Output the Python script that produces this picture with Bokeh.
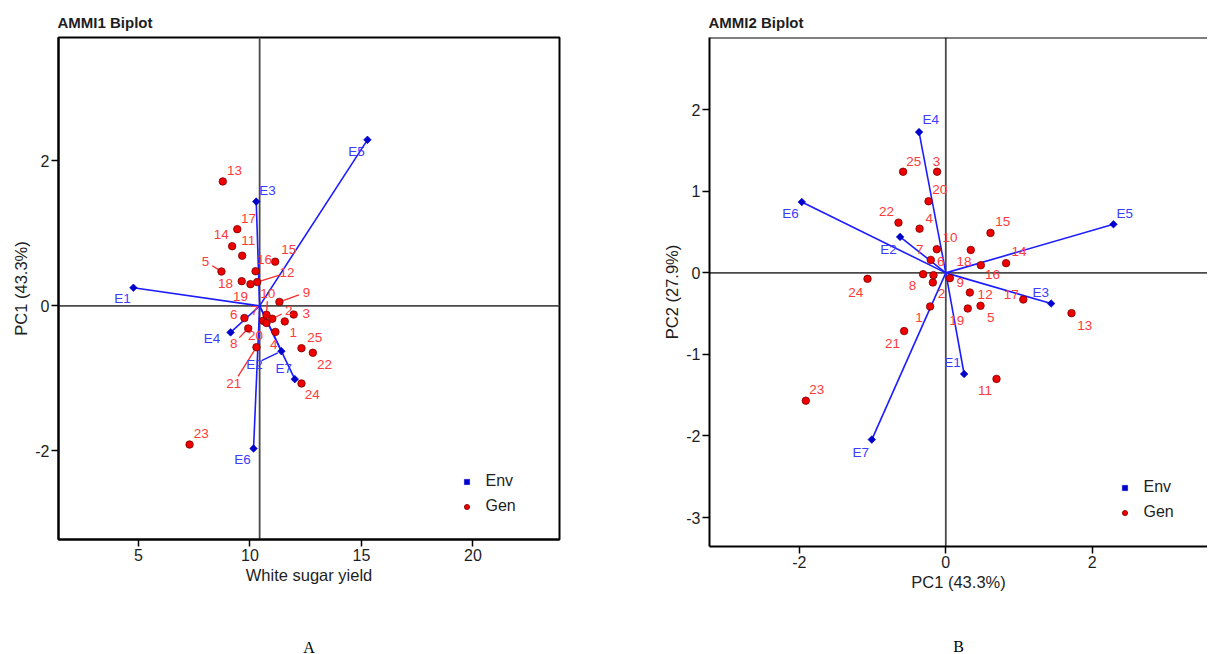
import math
from bokeh.plotting import figure
from bokeh.layouts import row
from bokeh.models import (Range1d, Span, Legend, LegendItem, FixedTicker,
                          ColumnDataSource, Title)
from bokeh.embed import file_html
from bokeh.resources import INLINE
from bokeh.core.properties import value

# ---------------- data ----------------
gen_names = [str(i) for i in range(1, 26)]
gen_yield = [11.56, 11.00, 11.96, 11.14, 8.72, 9.75, 10.59, 9.92, 11.32, 10.74,
             9.65, 10.32, 8.78, 9.20, 11.13, 10.25, 9.43, 9.63, 10.02, 10.74,
             10.29, 12.82, 7.29, 12.31, 12.31]
gen_pc1 = [-0.214, -0.177, -0.119, -0.358, 0.474, -0.168, -0.205, -0.310, 0.055, -0.123,
           0.692, 0.328, 1.716, 0.823, 0.610, 0.478, 1.058, 0.341, 0.300, -0.236,
           -0.569, -0.646, -1.911, -1.069, -0.583]
gen_pc2 = [-0.412, -0.118, 1.240, 0.542, -0.404, -0.028, 0.159, -0.016, -0.065, 0.290,
           -1.300, -0.241, -0.494, 0.119, 0.490, 0.094, -0.327, 0.281, -0.437, 0.878,
           -0.714, 0.616, -1.567, -0.073, 1.240]

env_names = ["E1", "E2", "E3", "E4", "E5", "E6", "E7"]
env_yield = [4.77, 11.41, 10.28, 9.13, 15.27, 10.16, 12.01]
env_pc1 = [0.250, -0.624, 1.438, -0.365, 2.289, -1.966, -1.010]
env_pc2 = [-1.240, 0.441, -0.376, 1.726, 0.596, 0.869, -2.044]

x_ticks_1 = [5, 10, 15, 20]
y_ticks_1 = [-2, 0, 2]
x_ticks_2 = [-2, 0, 2]
y_ticks_2 = [-3, -2, -1, 0, 1, 2]

# ---------------- label placement (pixel offsets, like ggrepel) ----------------
gen_off_1 = [(8.4, 11.0), (16.6, -8.3), (12.7, -0.6), (-1.7, 12.3), (-16, -10),
             (-10.7, -3.4), (-8.7, -10), (-14.4, 15), (27, -9.7), (1.3, -21.6),
             (6, -15.3), (30, -9.4), (11.7, -11), (-11, -11.7), (13.6, -12.4),
             (9, -11.7), (11.3, -11), (-16.3, 2), (-10, 12.7), (-11, 12.7),
             (-22.7, 36), (11.7, 12), (11.7, -11), (10.7, 11.3), (13.3, -10.4)]
env_off_1 = [(-11, 10.5), (-27, 13), (11.3, -11.4), (-18.5, 6.3), (-11, 12),
             (-11, 11.3), (-11, -11)]
gen_seg_1 = ["2", "5", "8", "9", "10", "12", "21"]
env_seg_1 = ["E2"]

gen_off_2 = [(-11, 11), (8.7, 11), (-0.6, -10.7), (9.6, -10.4), (10.3, 11.7),
             (7.3, -13.3), (-11, -10.7), (-10.6, 11), (10.3, 4.4), (13.3, -11.6),
             (-11.4, 11.6), (15.3, 1.6), (13.3, 12), (13, -11.3), (12.3, -11),
             (11.7, 9), (-12, -5.4), (-6.7, 12), (-11, 12.3), (11.3, -11.3),
             (-11.6, 12.4), (-12, -11), (11, -11), (-11.7, 13.7), (10.7, -10.7)]
env_off_2 = [(-11.6, -11.6), (-11.6, 12.3), (-10.3, -11), (11.7, -13), (11.3, -11),
             (-11.3, 11.8), (-11, 13)]

FONT = "Liberation Sans"
RED = "#ee0000"
RED_LINE = "#7a0000"
RED_TXT = "#ff3a3a"
BLUE = "#0000cc"
BLUE_LINE = "#1c1cff"
BLUE_TXT = "#3c3cff"
INK = "#1e1e1e"


def base_fig(width, height, xr, yr, bl, br, bt, bb, xticks, yticks, xlabel, ylabel, title):
    p = figure(width=width, height=height,
               x_range=Range1d(*xr), y_range=Range1d(*yr),
               output_backend="svg", toolbar_location=None, tools="",
               min_border_left=bl, min_border_right=br,
               min_border_top=bt, min_border_bottom=bb, frame_align=False)
    p.grid.visible = False
    p.background_fill_color = "white"
    p.border_fill_color = "white"
    p.title.text = title
    p.title.align = "left"
    p.title.text_font = FONT
    p.title.text_font_size = "15px"
    p.title.text_font_style = "bold"
    p.title.text_color = INK
    p.title.standoff = 13
    p.title.offset = -1
    for ax, ticks, lab in ((p.xaxis[0], xticks, xlabel), (p.yaxis[0], yticks, ylabel)):
        ax.ticker = FixedTicker(ticks=ticks)
        ax.major_label_overrides = {t: str(t) for t in ticks}
        ax.axis_label = lab
        ax.axis_label_text_font = FONT
        ax.axis_label_text_font_size = "16.5px"
        ax.axis_label_text_font_style = "normal"
        ax.axis_label_text_color = INK
        ax.major_label_text_font = FONT
        ax.major_label_text_font_size = "16px"
        ax.major_label_text_color = INK
        ax.axis_line_width = 2
        ax.axis_line_color = "black"
        ax.major_tick_line_width = 1.5
        ax.major_tick_line_color = "black"
        ax.major_tick_out = 7
        ax.major_tick_in = 0
        ax.minor_tick_line_color = None
        ax.major_label_standoff = 2
        ax.axis_label_standoff = 2
    return p


def draw_panel(p, frame_w, frame_h, xr, yr, gx, gy, ex, ey, cx, cy,
               goff, eoff, gseg, eseg, legend_loc):
    sx = frame_w / (xr[1] - xr[0])
    sy = frame_h / (yr[1] - yr[0])

    # reference lines through the centre
    p.add_layout(Span(location=cx, dimension="height", line_color="#4a4a4a",
                      line_width=1.8, level="underlay"))
    p.add_layout(Span(location=cy, dimension="width", line_color="#4a4a4a",
                      line_width=1.8, level="underlay"))

    # environment vectors
    n = len(ex)
    p.segment(x0=[cx] * n, y0=[cy] * n, x1=ex, y1=ey,
              line_color=BLUE_LINE, line_width=1.6)

    # label connector segments
    def connectors(xs, ys, names, offs, wanted, color):
        x0, y0, x1, y1 = [], [], [], []
        for xv, yv, nm, (dx, dy) in zip(xs, ys, names, offs):
            if nm not in wanted:
                continue
            d = math.hypot(dx, dy)
            a, b = 4.0 / d, (d - 8.0) / d
            x0.append(xv + dx * a / sx)
            y0.append(yv - dy * a / sy)
            x1.append(xv + dx * b / sx)
            y1.append(yv - dy * b / sy)
        if x0:
            p.segment(x0=x0, y0=y0, x1=x1, y1=y1, line_color=color, line_width=1.3)

    connectors(gx, gy, gen_names, goff, gseg, "#ff2a2a")
    connectors(ex, ey, env_names, eoff, eseg, BLUE_LINE)

    gsrc = ColumnDataSource(dict(x=gx, y=gy, t=gen_names,
                                 dx=[o[0] for o in goff], dy=[o[1] for o in goff]))
    esrc = ColumnDataSource(dict(x=ex, y=ey, t=env_names,
                                 dx=[o[0] for o in eoff], dy=[o[1] for o in eoff]))

    r_gen = p.scatter(x="x", y="y", source=gsrc, marker="circle", size=7.5,
                      fill_color=RED, line_color=RED_LINE, line_width=0.8)
    r_env = p.scatter(x="x", y="y", source=esrc, marker="square", angle=math.pi / 4,
                      size=5.4, fill_color=BLUE, line_color=BLUE, line_width=0.6)

    p.text(x="x", y="y", text="t", x_offset="dx", y_offset="dy", source=gsrc,
           text_font=value(FONT), text_font_size="13.5px", text_color=RED_TXT,
           text_align="center", text_baseline="middle")
    p.text(x="x", y="y", text="t", x_offset="dx", y_offset="dy", source=esrc,
           text_font=value(FONT), text_font_size="13.5px", text_color=BLUE_TXT,
           text_align="center", text_baseline="middle")

    legend = Legend(items=[LegendItem(label="Env", renderers=[r_env]),
                           LegendItem(label="Gen", renderers=[r_gen])],
                    location=legend_loc, orientation="vertical",
                    border_line_color=None, background_fill_alpha=0,
                    padding=0, margin=0, spacing=3,
                    glyph_width=13, glyph_height=13, label_height=22,
                    label_standoff=13, label_text_font=FONT,
                    label_text_font_size="16px", label_text_color=INK)
    p.add_layout(legend)


def panel_letter(p, letter, line_height, standoff):
    # caption letter under the panel; leading blank lines push it to the bottom edge
    p.add_layout(Title(text="\n\n" + letter, align="center", text_font="Liberation Serif",
                       text_font_size="16px", text_font_style="normal",
                       text_line_height=line_height, vertical_align="bottom",
                       text_color="black", standoff=standoff), "below")


H = 654
# ---------------- panel A: AMMI1 ----------------
W1 = 650
XR1, YR1 = (1.41, 23.885), (-3.22, 3.70)
FW1, FH1 = 501, 502
p1 = base_fig(W1, H, XR1, YR1, 58, W1 - 58 - FW1, 37, H - 37 - FH1,
              x_ticks_1, y_ticks_1, "White sugar yield", "PC1 (43.3%)", "AMMI1 Biplot")
p1.outline_line_color = "black"
p1.outline_line_width = 2
grand_mean = sum(env_yield) / len(env_yield)
draw_panel(p1, FW1, FH1, XR1, YR1, gen_yield, gen_pc1, env_yield, env_pc1,
           grand_mean, 0.0, gen_off_1, env_off_1, gen_seg_1, env_seg_1, (401.5, 22))
panel_letter(p1, "A", 1.5, -2)

# ---------------- panel B: AMMI2 ----------------
W2 = 557
FW2, FH2 = W2 - 59, 509
XR2, YR2 = (-3.226, -3.226 + FW2 / 73.25), (-3.355, 2.886)
p2 = base_fig(W2, H, XR2, YR2, 59, 0, 37, H - 37 - FH2,
              x_ticks_2, y_ticks_2, "PC1 (43.3%)", "PC2 (27.9%)", "AMMI2 Biplot")
p2.outline_line_color = None
p2.add_layout(Span(location=YR2[1], dimension="width", line_color="black",
                   line_width=2))
draw_panel(p2, FW2, FH2, XR2, YR2, gen_pc1, gen_pc2, env_pc1, env_pc2,
           0.0, 0.0, gen_off_2, env_off_2, [], [], (408.5, 23))
panel_letter(p2, "B", 1.29, -2)

layout = row(p1, p2)
open("out.html", "w").write(file_html(layout, INLINE))
